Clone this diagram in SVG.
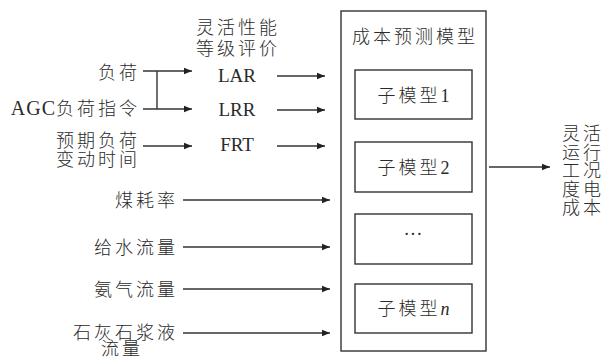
<svg xmlns="http://www.w3.org/2000/svg" width="606" height="360" viewBox="0 0 606 360">
<style>
.t{font-family:"Liberation Serif","Noto Sans CJK SC",serif;font-size:18px;fill:#2a2a2a;letter-spacing:3px}
.c{font-family:"Noto Sans CJK SC",sans-serif;font-weight:300}
.l{font-family:"Liberation Serif",serif;font-size:19px;fill:#2a2a2a}
.e{text-anchor:end}
.m{text-anchor:middle}
.ln{stroke:#333;stroke-width:1.4;fill:none}
.box{stroke:#333;stroke-width:1.4;fill:#fff}
</style>
<defs>
<marker id="ah" viewBox="0 0 10 10" refX="10" refY="5" markerWidth="8" markerHeight="8" markerUnits="userSpaceOnUse" orient="auto">
<path d="M0,1 L10,5 L0,9 z" fill="#222"/>
</marker>
</defs>
<rect width="606" height="360" fill="#fff"/>

<g id="title-eval">
<text class="t c m" x="238" y="34">灵活性能<tspan x="238" dy="21">等级评价</tspan></text>
</g>

<g id="in-load"><text class="t c e" x="140" y="79">负荷</text></g>
<g id="in-agc"><text class="t e" x="140" y="115"><tspan font-size="20" letter-spacing="1">AGC</tspan><tspan class="c">负荷指令</tspan></text></g>
<g id="in-time">
<text class="t c e" x="140" y="147">预期负荷<tspan x="140" dy="19">变动时间</tspan></text>
</g>
<g id="in-coal"><text class="t c e" x="178" y="207">煤耗率</text></g>
<g id="in-water"><text class="t c e" x="178" y="254">给水流量</text></g>
<g id="in-nh3"><text class="t c e" x="178" y="296">氨气流量</text></g>
<g id="in-lime">
<text class="t c e" x="178" y="339">石灰石浆液<tspan x="143" dy="16">流量</tspan></text>
</g>

<g id="lar"><text class="l m" x="237" y="82">LAR</text></g>
<g id="lrr"><text class="l m" x="237" y="116">LRR</text></g>
<g id="frt"><text class="l m" x="237" y="151">FRT</text></g>

<g id="model">
<rect class="box" x="341" y="11" width="145" height="340"/>
<text class="t c m" x="415" y="43">成本预测模型</text>
</g>
<g id="sub1">
<rect class="box" x="355" y="70" width="117" height="49"/>
<text class="t m" x="415" y="102"><tspan class="c">子模型</tspan>1</text>
</g>
<g id="sub2">
<rect class="box" x="355" y="142" width="117" height="50"/>
<text class="t m" x="415" y="174"><tspan class="c">子模型</tspan>2</text>
</g>
<g id="sub3">
<rect class="box" x="355" y="214" width="117" height="50"/>
<text class="l m" x="413" y="240">···</text>
</g>
<g id="sub4">
<rect class="box" x="355" y="284" width="117" height="49"/>
<text class="t m" x="415" y="315"><tspan class="c">子模型</tspan><tspan font-style="italic">n</tspan></text>
</g>

<g id="output">
<text class="t c" x="562" y="140">灵活<tspan x="562" dy="18.5">运行</tspan><tspan x="562" dy="18.5">工况</tspan><tspan x="562" dy="18.5">度电</tspan><tspan x="562" dy="18.5">成本</tspan></text>
</g>

<g id="connectors">
<line class="ln" x1="143" y1="71" x2="192" y2="71" marker-end="url(#ah)"/>
<line class="ln" x1="143" y1="109" x2="192" y2="109" marker-end="url(#ah)"/>
<line class="ln" x1="157" y1="71" x2="157" y2="109"/>
<line class="ln" x1="143" y1="146" x2="192" y2="146" marker-end="url(#ah)"/>
<line class="ln" x1="277" y1="76" x2="325" y2="76" marker-end="url(#ah)"/>
<line class="ln" x1="277" y1="110" x2="325" y2="110" marker-end="url(#ah)"/>
<line class="ln" x1="277" y1="146" x2="325" y2="146" marker-end="url(#ah)"/>
<line class="ln" x1="183" y1="200" x2="330" y2="200" marker-end="url(#ah)"/>
<line class="ln" x1="183" y1="247" x2="330" y2="247" marker-end="url(#ah)"/>
<line class="ln" x1="183" y1="289" x2="330" y2="289" marker-end="url(#ah)"/>
<line class="ln" x1="183" y1="333" x2="330" y2="333" marker-end="url(#ah)"/>
<line class="ln" x1="489" y1="167" x2="550" y2="167" marker-end="url(#ah)"/>
</g>
</svg>
